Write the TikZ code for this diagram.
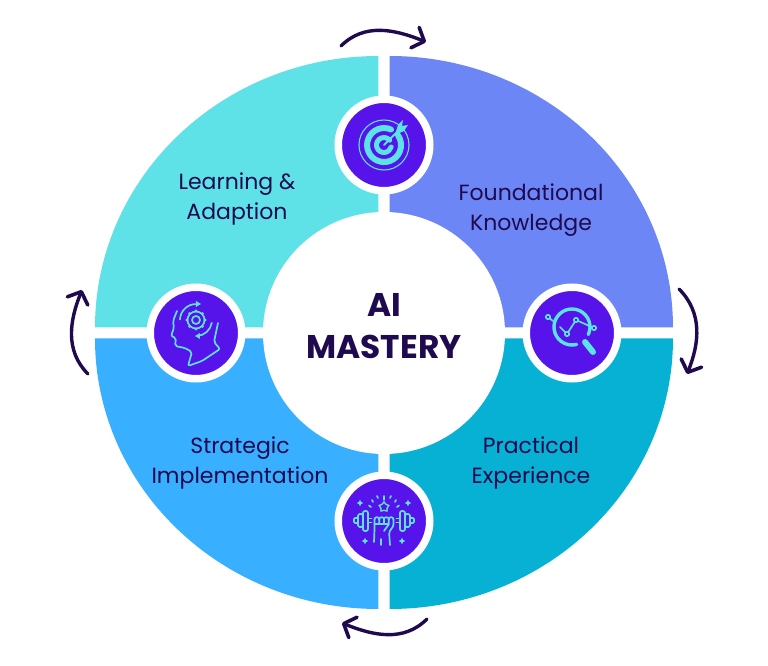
\documentclass[tikz,border=0pt]{standalone}
\usepackage{fontspec}
\setmainfont{Poppins}
\usetikzlibrary{arrows.meta}
\usetikzlibrary{shapes.geometric}
\definecolor{learncol}{HTML}{5EE2E8}
\definecolor{foundcol}{HTML}{6C86F6}
\definecolor{practcol}{HTML}{07B1D3}
\definecolor{stratcol}{HTML}{38B0FF}
\definecolor{badgecol}{HTML}{5613EA}
\definecolor{inkcol}{HTML}{1F0A50}
\definecolor{iconcol}{HTML}{5CE3E8}
\begin{document}
\begin{tikzpicture}[x=1pt,y=1pt]
	\tikzset{badge/.style = {shape=circle,fill=badgecol,draw=white,line width=7.5pt,minimum size=91.5pt,inner sep=0pt}}
	\tikzset{label/.style = {align=center,text=inkcol,font=\fontsize{22}{30}\selectfont}}
	\tikzset{turn/.style = {draw=inkcol,line width=3.4pt,line cap=round,-{Straight Barb[length=10pt,width=22pt,line width=3.6pt,round]}}}
	\tikzset{icon/.style = {draw=iconcol,line width=1.7pt,line cap=round,line join=round}}
	\useasboundingbox (-384,-333) rectangle (384,333);
	% quadrants
	\fill[foundcol] (5.5,5.5) -- (5.5,277) arc[start angle=90,end angle=0,x radius=283.5,y radius=271.5] -- cycle;
	\fill[learncol] (-5.5,5.5) -- (-5.5,277) arc[start angle=90,end angle=180,x radius=283.5,y radius=271.5] -- cycle;
	\fill[practcol] (5.5,-5.5) -- (5.5,-276) arc[start angle=-90,end angle=0,x radius=283.5,y radius=270.5] -- cycle;
	\fill[stratcol] (-5.5,-5.5) -- (-5.5,-276) arc[start angle=-90,end angle=-180,x radius=283.5,y radius=270.5] -- cycle;
	% vertices
	\node[circle,fill=white,minimum size=242pt,inner sep=0pt] (mastery) at (0,0) {};
	\node[align=center,text=inkcol,font=\fontsize{32.8}{42}\selectfont\bfseries] (title) at (0,7) {AI\\MASTERY};
	\node[badge] (target) at (0,188) {};
	\node[badge] (lens) at (188,0) {};
	\node[badge] (fist) at (0,-188) {};
	\node[badge] (head) at (-188,0) {};
	% labels
	\node[label] (learning) at (-147,134.5) {Learning \&\\Adaption};
	\node[label] (foundational) at (147,122.5) {Foundational\\Knowledge};
	\node[label] (practical) at (147,-130) {Practical\\Experience};
	\node[label] (strategic) at (-144,-130) {Strategic\\Implementation};
	% arrows
	\coordinate (t1) at (-43,287);
	\coordinate (t2) at (42,291);
	\coordinate (r1) at (295,44);
	\coordinate (r2) at (303,-41);
	\coordinate (b1) at (43,-286);
	\coordinate (b2) at (-42,-290);
	\coordinate (l1) at (-296,-41);
	\coordinate (l2) at (-302,43);
	\draw[turn] (t1) to[out=45,in=158] (t2);
	\draw[turn] (r1) to[out=-45,in=68] (r2);
	\draw[turn] (b1) to[out=225,in=-22] (b2);
	\draw[turn] (l1) to[out=135,in=248] (l2);
	% target icon
	\begin{scope}[shift={(target.center)}]
		\draw[icon,line width=1.1pt] (0,0) circle (25);
		\draw[icon,line width=6pt] (7,15.5) arc[start angle=66,end angle=395,radius=17];
		\draw[icon,line width=5pt] (5.7,4.8) arc[start angle=40,end angle=345,radius=7.5];
		\draw[icon,line width=2pt] (0,0) -- (14,14);
		\fill[iconcol] (11,10) -- (14,20) -- (19,25) -- (18,19) -- (24,20) -- (20,14) -- cycle;
	\end{scope}
	% lens icon
	\begin{scope}[shift={(lens.center)}]
		\draw[icon,line width=3.4pt] (16.3,-1.6) arc[start angle=-25,end angle=285,radius=18];
		\draw[icon,line width=6pt] (13,-9) -- (21,-19);
		\draw[icon] (-12,6) -- (-5,-1) -- (4,13) -- (22,5);
		\draw[icon] (-24,16) -- (-19,12);
		\foreach \p in {(-24,16),(-5,-1),(4,13),(22,5)}
			\filldraw[icon,fill=badgecol] \p circle (2.2);
	\end{scope}
	% fist icon
	\begin{scope}[shift={(fist.center)}]
		\foreach \s in {1,-1} {
			\begin{scope}[xscale=\s]
				\draw[icon,rounded corners=2pt] (16,10) rectangle (21,-10);
				\draw[icon,rounded corners=1.5pt] (21,7) rectangle (26,-6);
				\draw[icon,rounded corners=1pt] (26,3) rectangle (30,-2);
				\draw[icon] (12.5,2.5) -- (16,2.5) (12.5,-1.5) -- (16,-1.5);
				\draw[icon] (13,14) -- (15,15.5) (11,19) -- (12,21) (6,23) -- (7,25);
			\end{scope}
		}
		\draw[icon] (-22,18) -- (-26,18) (-24,16) -- (-24,20) (26,18) -- (22,18) (24,16) -- (24,20);
		\draw[icon] (-21,-20) -- (-17,-20) (-19,-22) -- (-19,-18) (16,-20) -- (20,-20) (18,-22) -- (18,-18);
		\draw[icon] (0,21) -- (0,25);
		\node[star,star points=5,draw=iconcol,line width=1.4pt,minimum size=10pt,inner sep=0pt] (medal) at (0,14) {};
		\foreach \x in {-9.5,-4.75,0,4.75}
			\draw[icon] (\x,1.5) arc[start angle=180,end angle=0,radius=2.37];
		\draw[icon,rounded corners=3pt] (9.5,1.5) -- (9.5,-6) -- (5,-10) -- (6,-24);
		\draw[icon,rounded corners=3pt] (-9.5,1.5) -- (-9.5,-9) -- (-10,-21);
		\draw[icon] (-4.75,1.5) -- (-4.75,-3) (0,1.5) -- (0,-3) (4.75,1.5) -- (4.75,-3) (-9.5,-3) -- (5,-3) -- (0,-10);
		\draw[icon] (-3,-18) -- (-3,-24);
	\end{scope}
	% head icon
	\begin{scope}[shift={(head.center)}]
		\draw[icon,rounded corners=2pt] (-19,22) -- (-23,12) -- (-22,5) -- (-25,-3) -- (-20,-5) -- (-21,-13) -- (-11,-15) -- (-4,-19) -- (-8,-33) -- (6,-28) -- (24,-16) -- (18,-9) -- (22,10);
		\draw[icon] (0,13) circle (4);
		\draw[icon] (0,13) circle (8.5);
		\foreach \a in {0,45,...,315}
			\fill[iconcol] (0,13) ++(\a:9) circle (1.6);
		\draw[icon] (-16,13.5) arc[start angle=178,end angle=88,radius=16];
		\draw[icon] (15.8,10.2) arc[start angle=-10,end angle=-85,radius=16];
		\fill[iconcol] (0,32) -- (0,26) -- (5,29) -- cycle;
		\fill[iconcol] (-1,-3) -- (4,-6) -- (4,0) -- cycle;
	\end{scope}
\end{tikzpicture}
\end{document}
